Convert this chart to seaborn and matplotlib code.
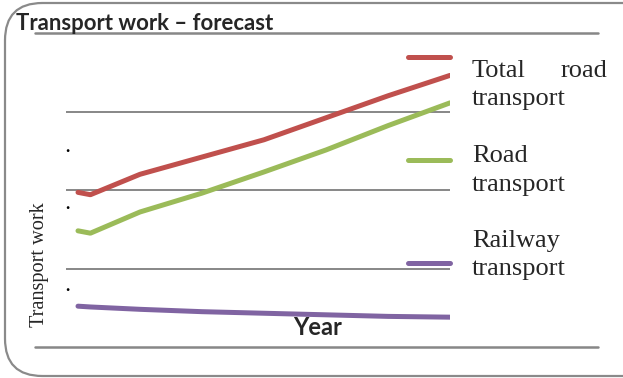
import matplotlib
matplotlib.use("Agg")
import matplotlib.pyplot as plt
import seaborn as sns
import pandas as pd
from matplotlib.lines import Line2D
from matplotlib.patches import FancyBboxPatch

# ---- data (arbitrary units) ----
years = [2010, 2011, 2015, 2020, 2025, 2030, 2035, 2040]
total_road = [1.97, 1.94, 2.20, 2.42, 2.64, 2.92, 3.20, 3.46]
road = [1.48, 1.45, 1.72, 1.96, 2.23, 2.51, 2.82, 3.11]
railway = [0.52, 0.51, 0.48, 0.45, 0.43, 0.41, 0.39, 0.38]
series_names = ["Total road transport", "Road transport", "Railway transport"]
series_values = [total_road, road, railway]
colors = ["#C0504D", "#9BBB59", "#8064A2"]

W, H = 623, 378
sns.set_theme(style="white")
plt.rcParams["font.family"] = ["Liberation Serif", "DejaVu Serif"]

fig = plt.figure(figsize=(W / 100, H / 100), dpi=100)

def fx(px):
    return px / W

def fy(py):
    return 1 - py / H

# plot area
ax_l, ax_r, ax_t, ax_b = 66, 450, 33, 347
ax = fig.add_axes([fx(ax_l), fy(ax_b), fx(ax_r - ax_l), (ax_b - ax_t) / H])

rows = []
for name, vals in zip(series_names, series_values):
    for y, v in zip(years, vals):
        rows.append({"Year": y, "value": v, "series": name})
df = pd.DataFrame(rows)

LW = 3.6
sns.lineplot(data=df, x="Year", y="value", hue="series", palette=colors,
             hue_order=series_names, legend=False, ax=ax, linewidth=LW,
             solid_capstyle="round", solid_joinstyle="round", zorder=3)

px_per_year = (ax_r - 78) / (years[-1] - years[0])
ax.set_xlim(years[0] - (78 - ax_l) / px_per_year, years[-1])
ax.set_ylim(0, 4)
ax.set_xticks([])
ax.set_yticks([])
ax.set_xlabel("")
ax.set_ylabel("")
for s in ax.spines.values():
    s.set_visible(False)

grid_c = "#878787"
for g in [1, 2, 3]:
    ax.axhline(g, color=grid_c, lw=1.4, zorder=1)
# top and bottom lines extend beyond the plot area
xmin = (35 - ax_l) / (ax_r - ax_l)
xmax = (598 - ax_l) / (ax_r - ax_l)
for g in [0, 4]:
    ax.axhline(g, xmin=xmin, xmax=xmax, color=grid_c, lw=1.8, clip_on=False, zorder=1)

# rounded border
border = FancyBboxPatch((fx(5), fy(376)), fx(660 - 5), (376 - 3) / H,
                        boxstyle="round,pad=0,rounding_size=0.06",
                        transform=fig.transFigure, fill=False,
                        edgecolor="#8a8a8a", lw=1.6, mutation_aspect=W / H)
fig.add_artist(border)

renderer = fig.canvas.get_renderer()

def fit_text(x, y, s, target_w, **kw):
    t = fig.text(fx(x), fy(y), s, **kw)
    size = kw.get("fontsize", 12)
    for _ in range(3):
        bb = t.get_window_extent(renderer=renderer)
        w = bb.width if kw.get("rotation", 0) == 0 else bb.height
        size = size * target_w / w
        t.set_fontsize(size)
    return t

# title
fit_text(16, 30, "Transport work \u2013 forecast", 256, fontsize=13,
         fontweight="bold", family=["Lato", "DejaVu Sans"], va="baseline", ha="left")
# x label
fit_text(293, 335, "Year", 49, fontsize=12, fontweight="bold",
         family=["Lato", "DejaVu Sans"], va="baseline", ha="left")
# y label
fit_text(40, 265, "Transport work", 125, fontsize=14, rotation=90,
         family=["Liberation Serif", "DejaVu Serif"], va="center", ha="center")

# stray tick dots
for dy in [150, 207, 289]:
    fig.text(fx(67), fy(dy + 2), ".", fontsize=12, fontweight="bold",
             ha="center", va="baseline", color="black")

# legend
leg_font = 19
legend_rows = [
    (57, [("Total", "road"), ("transport", None)], 77),
    (160, [("Road", None), ("transport", None)], 162),
    (263, [("Railway", None), ("transport", None)], 247),
]
for (ly, lines, base), col in zip(legend_rows, colors):
    fig.add_artist(Line2D([fx(408), fx(450)], [fy(ly), fy(ly)], color=col,
                          lw=LW, solid_capstyle="round", transform=fig.transFigure))
    for i, (left, right) in enumerate(lines):
        yb = base + i * 28.5
        fig.text(fx(472), fy(yb), left, fontsize=leg_font, ha="left",
                 va="baseline", family=["Liberation Serif", "DejaVu Serif"])
        if right:
            fig.text(fx(607), fy(yb), right, fontsize=leg_font, ha="right",
                     va="baseline", family=["Liberation Serif", "DejaVu Serif"])

fig.savefig("out.png", dpi=100)
